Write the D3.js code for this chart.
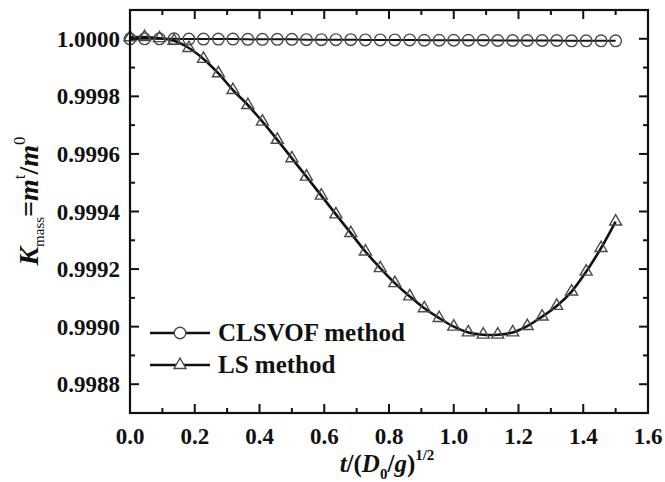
<!DOCTYPE html>
<html>
<head>
<meta charset="utf-8">
<script src="https://cdn.jsdelivr.net/npm/d3@7"></script>
<style>
    html, body { margin: 0; padding: 0; background: #fff; }
    svg { display: block; }
</style>
</head>
<body>
<svg id="chart" width="665" height="482"></svg>
<script>
// non-dimensional time t/(D0/g)^1/2, shared by both runs
var timeValues = [0, 0.045, 0.091, 0.136, 0.182, 0.227, 0.273, 0.318, 0.364, 0.409,
    0.455, 0.5, 0.545, 0.591, 0.636, 0.682, 0.727, 0.773, 0.818, 0.864,
    0.909, 0.955, 1.0, 1.045, 1.091, 1.136, 1.182, 1.227, 1.273, 1.318,
    1.364, 1.409, 1.455, 1.5];

// mass ratio K_mass for the CLSVOF method
var clsvofValues = [1.000000, 1.000000, 1.000000, 1.000000, 0.999999, 0.999999, 0.999999, 0.999999,
    0.999998, 0.999998, 0.999998, 0.999998, 0.999997, 0.999997, 0.999997, 0.999997,
    0.999996, 0.999996, 0.999996, 0.999996, 0.999995, 0.999995, 0.999995, 0.999995,
    0.999995, 0.999994, 0.999994, 0.999994, 0.999994, 0.999994, 0.999993, 0.999993,
    0.999993, 0.999993];

// mass ratio K_mass for the LS method
var lsValues = [1.000005, 1.000006, 1.000002, 0.999993, 0.999968, 0.999930, 0.999880, 0.999822,
    0.999770, 0.999712, 0.999649, 0.999585, 0.999521, 0.999455, 0.999390, 0.999325,
    0.999261, 0.999203, 0.999151, 0.999105, 0.999064, 0.999030, 0.999000, 0.998980,
    0.998972, 0.998972, 0.998980, 0.999002, 0.999035, 0.999072, 0.999122, 0.999191,
    0.999273, 0.999365];

var xTicks = [0, 0.2, 0.4, 0.6, 0.8, 1.0, 1.2, 1.4, 1.6];
var yTicks = [0.9988, 0.9990, 0.9992, 0.9994, 0.9996, 0.9998, 1.0000];
var legendLabels = ["CLSVOF method", "LS method"];

var plot = {left: 130, right: 648, top: 10, bottom: 413},
    fontFamily = "Liberation Serif",
    markerColor = "#4a4a4a";

var svg = d3.select("#chart");

var x = d3.scaleLinear().domain([0, 1.6]).range([plot.left, plot.right]),
    y = d3.scaleLinear().domain([0.9987, 1.0001]).range([plot.bottom, plot.top]);

/**
 * Appends a bold serif text element
 * @param parent where to append it
 * @param size font size in px
 */
function addText(parent, size) {
    return parent.append("text")
        .attr("font-family", fontFamily)
        .attr("font-weight", "bold")
        .attr("font-size", size)
        .attr("fill", "#111");
}

/**
 * Draws the inward ticks of one side of the frame
 * @param values the tick values
 * @param scale the scale of that side
 * @param side "bottom", "top", "left" or "right"
 * @param len tick length in px
 */
function drawTicks(values, scale, side, len) {
    values.forEach(function (v) {
        var p = scale(v), line = svg.append("line")
            .attr("stroke", "#111")
            .attr("stroke-width", 2);
        if (side === "bottom") line.attr("x1", p).attr("x2", p).attr("y1", plot.bottom).attr("y2", plot.bottom - len);
        if (side === "top") line.attr("x1", p).attr("x2", p).attr("y1", plot.top).attr("y2", plot.top + len);
        if (side === "left") line.attr("y1", p).attr("y2", p).attr("x1", plot.left).attr("x2", plot.left + len);
        if (side === "right") line.attr("y1", p).attr("y2", p).attr("x1", plot.right).attr("x2", plot.right - len);
    });
}

/**
 * Triangle marker path centred on (cx, cy)
 */
function trianglePath(cx, cy, s) {
    var h = s * Math.sqrt(3) / 2;
    return "M" + (cx - s / 2) + "," + (cy + h / 3) + "L" + (cx + s / 2) + "," + (cy + h / 3) +
        "L" + cx + "," + (cy - 2 * h / 3) + "Z";
}

// Data lines
var clsvofData = timeValues.map(function (t, i) { return [t, clsvofValues[i]]; }),
    lsData = timeValues.map(function (t, i) { return [t, lsValues[i]]; });

var line = d3.line()
    .x(function (d) { return x(d[0]); })
    .y(function (d) { return y(d[1]); })
    .curve(d3.curveCatmullRom);

svg.append("path").datum(clsvofData)
    .attr("d", line).attr("fill", "none").attr("stroke", "#111").attr("stroke-width", 2);
svg.append("path").datum(lsData)
    .attr("d", line).attr("fill", "none").attr("stroke", "#111").attr("stroke-width", 2.6);

// Markers
svg.selectAll(".circ").data(clsvofData).enter().append("circle")
    .attr("cx", function (d) { return x(d[0]); })
    .attr("cy", function (d) { return y(d[1]); })
    .attr("r", 5.8)
    .attr("fill", "none")
    .attr("stroke", markerColor)
    .attr("stroke-width", 1.4);

svg.selectAll(".tri").data(lsData).enter().append("path")
    .attr("d", function (d) { return trianglePath(x(d[0]), y(d[1]), 12); })
    .attr("fill", "none")
    .attr("stroke", markerColor)
    .attr("stroke-width", 1.4);

// Frame and ticks
svg.append("rect")
    .attr("x", plot.left).attr("y", plot.top)
    .attr("width", plot.right - plot.left).attr("height", plot.bottom - plot.top)
    .attr("fill", "none").attr("stroke", "#111").attr("stroke-width", 2.2);

var xMinor = [0.1, 0.3, 0.5, 0.7, 0.9, 1.1, 1.3, 1.5],
    yMinor = [0.9987, 0.9989, 0.9991, 0.9993, 0.9995, 0.9997, 0.9999];

["bottom", "top"].forEach(function (s) {
    drawTicks(xTicks, x, s, 9);
    drawTicks(xMinor, x, s, 5);
});
["left", "right"].forEach(function (s) {
    drawTicks(yTicks, y, s, 9);
    drawTicks(yMinor, y, s, 5);
});

// Tick labels
xTicks.forEach(function (d) {
    addText(svg, 23)
        .attr("x", x(d))
        .attr("y", 444)
        .attr("text-anchor", "middle")
        .text(d3.format(".1f")(d));
});

yTicks.forEach(function (d) {
    addText(svg, 23)
        .attr("x", 120)
        .attr("y", y(d) + 8)
        .attr("text-anchor", "end")
        .text(d3.format(".4f")(d));
});

// x axis title: t/(D0/g)^1/2
var xTitle = addText(svg, 25)
    .attr("x", 387).attr("y", 472)
    .attr("text-anchor", "middle");
xTitle.append("tspan").attr("font-style", "italic").text("t");
xTitle.append("tspan").text("/(");
xTitle.append("tspan").attr("font-style", "italic").text("D");
xTitle.append("tspan").attr("dy", 7).attr("font-size", 15).text("0");
xTitle.append("tspan").attr("dy", -7).text("/");
xTitle.append("tspan").attr("font-style", "italic").text("g");
xTitle.append("tspan").text(")");
xTitle.append("tspan").attr("dy", -12).attr("font-size", 15).text("1/2");

// y axis title: K_mass = m^t / m^0
var yTitle = addText(svg, 28)
    .attr("transform", "translate(38,201) rotate(-90)")
    .attr("text-anchor", "middle");
yTitle.append("tspan").attr("font-style", "italic").text("K");
yTitle.append("tspan").attr("dy", 6).attr("font-size", 15).attr("font-weight", "normal").text("mass");
yTitle.append("tspan").attr("dy", -6).text("=");
yTitle.append("tspan").attr("font-style", "italic").text("m");
yTitle.append("tspan").attr("dy", -13).attr("font-size", 17).attr("font-weight", "normal").text("t");
yTitle.append("tspan").attr("dy", 13).text("/");
yTitle.append("tspan").attr("font-style", "italic").text("m");
yTitle.append("tspan").attr("dy", -13).attr("font-size", 17).attr("font-weight", "normal").text("0");

// Legend
legendLabels.forEach(function (label, i) {
    var ly = 333 + i * 32;
    svg.append("line")
        .attr("x1", 150).attr("x2", 210).attr("y1", ly).attr("y2", ly)
        .attr("stroke", "#111").attr("stroke-width", 2.4);
    if (i === 0) {
        svg.append("circle").attr("cx", 180).attr("cy", ly).attr("r", 5.8)
            .attr("fill", "#fff").attr("stroke", markerColor).attr("stroke-width", 1.4);
    } else {
        svg.append("path").attr("d", trianglePath(180, ly, 12))
            .attr("fill", "#fff").attr("stroke", markerColor).attr("stroke-width", 1.4);
    }
    addText(svg, 25)
        .attr("x", 218).attr("y", ly + 8)
        .text(label);
});
</script>
</body>
</html>
